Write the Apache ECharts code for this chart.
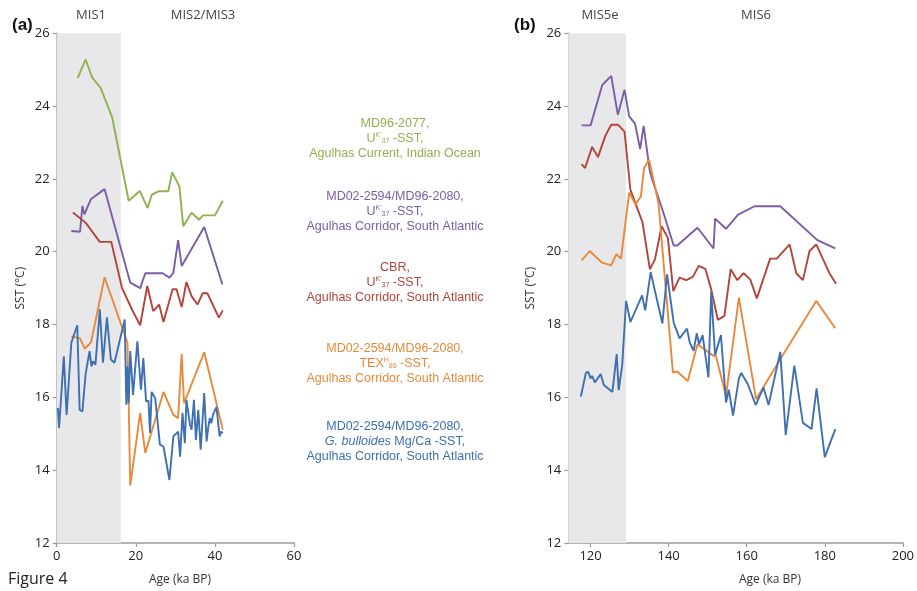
<!DOCTYPE html>
<html>
<head>
<meta charset="utf-8">
<script src="https://cdn.jsdelivr.net/npm/echarts@6/dist/echarts.min.js"></script>
<style>
  html, body { margin: 0; padding: 0; background: #fff; }
  #chart { width: 917px; height: 591px; }
</style>
</head>
<body>
<div id="chart"></div>
<script>
// ---- Panel (a): 0-60 ka ----
const aGreenAge = [5.3, 7.3, 9.0, 11.1, 14.0, 18.2, 21.0, 23.0, 24.0, 25.7, 28.2, 29.2, 31.0, 32.0, 34.1, 36.0, 37.0, 40.0, 42.0];
const aGreenSst = [24.77, 25.28, 24.78, 24.5, 23.7, 21.4, 21.67, 21.2, 21.56, 21.66, 21.66, 22.18, 21.8, 20.7, 21.07, 20.88, 21.0, 21.0, 21.4];

const aPurpleAge = [3.7, 5.9, 6.5, 7.0, 8.7, 12.1, 18.6, 21.1, 22.4, 26.8, 28.5, 29.5, 30.7, 31.6, 37.3, 41.9];
const aPurpleSst = [20.57, 20.55, 21.26, 21.03, 21.45, 21.72, 19.15, 19.0, 19.41, 19.41, 19.29, 19.42, 20.32, 19.61, 20.68, 19.1];

const aRedAge = [4.1, 7.3, 10.9, 13.8, 16.5, 19.0, 21.1, 22.9, 24.4, 25.9, 27.0, 29.3, 30.3, 31.6, 32.8, 34.1, 35.6, 36.9, 38.1, 41.0, 42.0];
const aRedSst = [21.08, 20.8, 20.27, 20.27, 19.01, 18.42, 17.98, 19.06, 18.37, 18.55, 18.07, 18.97, 18.97, 18.48, 19.17, 18.78, 18.55, 18.86, 18.86, 18.19, 18.39];

const aOrangeAge = [3.7, 5.9, 7.1, 8.7, 12.1, 17.9, 18.6, 21.1, 22.4, 27.0, 29.5, 30.7, 31.6, 32.2, 37.3, 42.0];
const aOrangeSst = [17.68, 17.62, 17.33, 17.52, 19.3, 17.5, 13.58, 15.57, 14.47, 16.15, 15.52, 15.43, 17.19, 15.84, 17.24, 15.11];

const aBlueAge = [0.3, 0.6, 1.8, 2.5, 3.7, 5.2, 5.8, 6.5, 7.3, 8.3, 8.8, 9.2, 9.8, 10.9, 11.7, 12.7, 13.7, 14.6, 17.2, 17.6, 17.9, 18.2, 18.6, 19.3, 20.4, 21.3, 21.9, 22.6, 23.2, 23.6, 24.0, 24.9, 26.1, 27.0, 28.5, 29.5, 30.7, 31.2, 31.8, 32.4, 32.8, 33.7, 34.1, 34.7, 35.2, 35.8, 36.4, 37.3, 37.9, 38.3, 38.7, 39.1, 39.5, 40.4, 40.8, 41.2, 41.6, 42.0];
const aBlueSst = [15.71, 15.16, 17.13, 15.52, 17.5, 17.98, 15.66, 15.61, 16.63, 17.27, 16.85, 16.99, 16.9, 18.42, 16.95, 18.2, 17.04, 16.95, 18.14, 15.8, 16.85, 15.84, 17.27, 16.07, 17.54, 16.21, 17.08, 15.89, 15.91, 15.02, 16.15, 15.98, 14.7, 14.65, 13.73, 14.93, 15.06, 14.37, 15.57, 14.74, 15.93, 15.25, 15.11, 15.93, 14.83, 15.66, 14.56, 16.12, 14.79, 15.16, 15.43, 15.29, 15.52, 15.73, 15.33, 14.93, 15.06, 15.02];

// ---- Panel (b): 114-200 ka ----
const bPurpleAge = [117.7, 120.0, 123.0, 125.3, 127.0, 128.7, 129.9, 131.4, 132.7, 133.6, 135.2, 135.8, 138.4, 141.3, 142.2, 147.4, 151.5, 151.9, 154.7, 157.8, 162.0, 168.6, 178.1, 182.7];
const bPurpleSst = [23.47, 23.47, 24.58, 24.83, 23.76, 24.45, 23.72, 23.52, 22.82, 23.46, 22.21, 21.98, 21.16, 20.17, 20.17, 20.66, 20.09, 20.91, 20.63, 21.02, 21.25, 21.25, 20.32, 20.09];

const bRedAge = [117.7, 118.6, 120.4, 121.9, 123.8, 125.3, 127.0, 128.7, 130.2, 131.6, 133.3, 135.2, 136.5, 138.2, 139.8, 141.2, 142.8, 144.5, 146.2, 147.7, 149.4, 150.9, 152.6, 154.3, 155.9, 157.6, 159.2, 160.9, 162.6, 166.0, 167.7, 171.0, 172.7, 174.4, 176.1, 177.8, 181.2, 182.9];
const bRedSst = [22.41, 22.3, 22.88, 22.6, 23.19, 23.49, 23.49, 23.3, 21.71, 21.3, 20.81, 19.52, 19.79, 20.7, 20.38, 18.92, 19.29, 19.22, 19.31, 19.61, 19.53, 18.97, 18.13, 18.24, 19.52, 19.22, 19.41, 19.24, 18.72, 19.81, 19.81, 20.2, 19.41, 19.22, 20.02, 20.2, 19.41, 19.12];

const bOrangeAge = [117.7, 119.8, 122.9, 125.3, 126.6, 127.8, 129.9, 131.5, 132.9, 133.7, 135.0, 137.4, 141.1, 142.2, 144.9, 147.4, 151.5, 152.1, 154.7, 158.0, 162.4, 168.6, 177.8, 182.7];
const bOrangeSst = [19.76, 20.02, 19.7, 19.63, 19.93, 19.81, 21.63, 21.3, 21.52, 22.3, 22.53, 21.34, 16.68, 16.71, 16.45, 17.46, 17.14, 17.14, 16.04, 18.74, 15.95, 17.05, 18.65, 17.9];

const bBlueAge = [117.5, 118.8, 119.4, 120.0, 120.4, 121.1, 122.6, 123.4, 125.6, 126.7, 127.2, 128.1, 129.1, 130.2, 133.2, 134.0, 135.4, 138.4, 139.6, 141.3, 142.8, 144.7, 145.4, 146.4, 147.2, 147.8, 148.7, 150.2, 150.9, 151.9, 153.4, 154.7, 155.4, 156.5, 158.0, 158.6, 160.3, 162.3, 164.3, 165.6, 168.6, 170.0, 172.2, 174.4, 176.6, 177.9, 180.0, 182.7];
const bBlueSst = [16.02, 16.67, 16.7, 16.52, 16.59, 16.41, 16.64, 16.34, 16.15, 17.19, 16.2, 16.87, 18.65, 18.07, 18.8, 18.39, 19.44, 18.03, 19.38, 18.05, 17.62, 17.89, 17.51, 17.28, 17.76, 17.46, 17.71, 16.55, 18.9, 17.16, 17.71, 15.86, 16.21, 15.5, 16.52, 16.67, 16.36, 15.79, 16.27, 15.79, 17.25, 14.97, 16.87, 15.3, 15.13, 16.25, 14.36, 15.13];

// Axis ticks and climate-stage bands
const yTicks = [12, 14, 16, 18, 20, 22, 24, 26];
const aXTicks = [0, 20, 40, 60];
const bXTicks = [120, 140, 160, 180, 200];
const aBand = [0, 16.2];      // MIS1
const bBand = [114.3, 129.1]; // MIS5e

const COLORS = {
  green: '#8db24e',
  purple: '#7a5da6',
  red: '#b4443b',
  orange: '#e8893a',
  blue: '#3e6fb0'
};

function pairs(ages, vals) {
  return ages.map((a, i) => [a, vals[i]]);
}

function lineSeries(name, color, idx, ages, vals, band) {
  const s = {
    name: name,
    type: 'line',
    xAxisIndex: idx,
    yAxisIndex: idx,
    data: pairs(ages, vals),
    showSymbol: false,
    symbol: 'none',
    lineStyle: { color: color, width: 1.9 },
    itemStyle: { color: color },
    animation: false,
    z: 3
  };
  if (band) {
    s.markArea = {
      silent: true,
      itemStyle: { color: '#e8e8eb' },
      data: [[{ xAxis: band[0], yAxis: 12 }, { xAxis: band[1], yAxis: 26 }]]
    };
  }
  return s;
}

const axisFont = 'Open Sans, Noto Sans, sans-serif';

function xAxisCfg(idx, min, max, ticks) {
  return {
    type: 'value',
    gridIndex: idx,
    min: min,
    max: max,
    splitLine: { show: false },
    axisLine: { show: true, lineStyle: { color: '#9a9a9a', width: 1.5 } },
    axisTick: { show: true, length: 4, customValues: ticks, lineStyle: { color: '#9a9a9a', width: 1.2 } },
    axisLabel: { customValues: ticks, color: '#222', fontSize: 13, fontFamily: axisFont, margin: 7 }
  };
}

function yAxisCfg(idx, gap) {
  return {
    type: 'value',
    gridIndex: idx,
    min: yTicks[0],
    max: yTicks[yTicks.length - 1],
    interval: 2,
    name: 'SST (°C)',
    nameLocation: 'middle',
    nameGap: gap,
    nameRotate: 90,
    nameTextStyle: { color: '#333', fontSize: 12, fontFamily: axisFont },
    splitLine: { show: false },
    axisLine: { show: true, lineStyle: { color: '#9a9a9a', width: 1.5 } },
    axisTick: { show: true, length: 4, lineStyle: { color: '#9a9a9a', width: 1.2 } },
    axisLabel: { color: '#222', fontSize: 13, fontFamily: axisFont, margin: 7 }
  };
}

// Captions between the two panels, one block per record
const sup = { fontSize: 7, verticalAlign: 'top', lineHeight: 10 };
const sub = { fontSize: 7, verticalAlign: 'bottom', lineHeight: 10 };
function captionRich(color) {
  return {
    sup: Object.assign({ fill: color }, sup),
    sub: Object.assign({ fill: color }, sub),
    it: { fill: color, fontStyle: 'italic', fontSize: 12.5, fontFamily: 'Liberation Sans, Arial, sans-serif' }
  };
}
function caption(lines, color, y) {
  return lines.map((t, i) => ({
    type: 'text',
    x: 395,
    top: y + i * 15 - 7,
    style: {
      text: t,
      fill: color,
      font: '12.5px "Liberation Sans", Arial, sans-serif',
      textAlign: 'center',
      rich: captionRich(color)
    }
  }));
}

const captions = []
  .concat(caption(['MD96-2077,', 'U{sup|K\'}{sub|37} -SST,', 'Agulhas Current, Indian Ocean'], COLORS.green, 124))
  .concat(caption(['MD02-2594/MD96-2080,', 'U{sup|K\'}{sub|37} -SST,', 'Agulhas Corridor, South Atlantic'], COLORS.purple, 197))
  .concat(caption(['CBR,', 'U{sup|K\'}{sub|37} -SST,', 'Agulhas Corridor, South Atlantic'], COLORS.red, 268))
  .concat(caption(['MD02-2594/MD96-2080,', 'TEX{sup|H}{sub|86} -SST,', 'Agulhas Corridor, South Atlantic'], COLORS.orange, 349))
  .concat(caption(['MD02-2594/MD96-2080,', '{it|G. bulloides} Mg/Ca -SST,', 'Agulhas Corridor, South Atlantic'], COLORS.blue, 427));

const headerFont = '13px "Open Sans", "Noto Sans", sans-serif';
const graphics = [
  { type: 'text', x: 12, y: 17, style: { text: '(a)', font: 'bold 17px "Liberation Sans", Arial, sans-serif', fill: '#111' } },
  { type: 'text', x: 514, y: 17, style: { text: '(b)', font: 'bold 17px "Liberation Sans", Arial, sans-serif', fill: '#111' } },
  { type: 'text', x: 91, y: 9, style: { text: 'MIS1', font: headerFont, fill: '#444', textAlign: 'center' } },
  { type: 'text', x: 203, y: 9, style: { text: 'MIS2/MIS3', font: headerFont, fill: '#444', textAlign: 'center' } },
  { type: 'text', x: 600, y: 9, style: { text: 'MIS5e', font: headerFont, fill: '#444', textAlign: 'center' } },
  { type: 'text', x: 756, y: 9, style: { text: 'MIS6', font: headerFont, fill: '#444', textAlign: 'center' } },
  { type: 'text', x: 180, y: 574, style: { text: 'Age (ka BP)', font: '12px "Open Sans", "Noto Sans", sans-serif', fill: '#333', textAlign: 'center' } },
  { type: 'text', x: 770, y: 574, style: { text: 'Age (ka BP)', font: '12px "Open Sans", "Noto Sans", sans-serif', fill: '#333', textAlign: 'center' } },
  { type: 'text', x: 8, y: 571, style: { text: 'Figure 4', font: '16px "Open Sans", "Noto Sans", sans-serif', fill: '#222' } }
].concat(captions);

const chart = echarts.init(document.getElementById('chart'), null, { renderer: 'canvas' });
chart.setOption({
  backgroundColor: '#ffffff',
  animation: false,
  grid: [
    { left: 56.7, top: 33.3, width: 237.3, height: 509.7 },
    { left: 568.3, top: 33.3, width: 338.4, height: 509.7 }
  ],
  xAxis: [
    xAxisCfg(0, 0, 60, aXTicks),
    xAxisCfg(1, 114.3, 200, bXTicks)
  ],
  yAxis: [
    yAxisCfg(0, 30),
    yAxisCfg(1, 32)
  ],
  series: [
    lineSeries('MD96-2077 UK37', COLORS.green, 0, aGreenAge, aGreenSst, aBand),
    lineSeries('MD02-2594/MD96-2080 UK37', COLORS.purple, 0, aPurpleAge, aPurpleSst),
    lineSeries('CBR UK37', COLORS.red, 0, aRedAge, aRedSst),
    lineSeries('MD02-2594/MD96-2080 TEX86', COLORS.orange, 0, aOrangeAge, aOrangeSst),
    lineSeries('MD02-2594/MD96-2080 Mg/Ca', COLORS.blue, 0, aBlueAge, aBlueSst),
    lineSeries('MD02-2594/MD96-2080 UK37 (b)', COLORS.purple, 1, bPurpleAge, bPurpleSst, bBand),
    lineSeries('CBR UK37 (b)', COLORS.red, 1, bRedAge, bRedSst),
    lineSeries('MD02-2594/MD96-2080 TEX86 (b)', COLORS.orange, 1, bOrangeAge, bOrangeSst),
    lineSeries('MD02-2594/MD96-2080 Mg/Ca (b)', COLORS.blue, 1, bBlueAge, bBlueSst)
  ],
  graphic: graphics
});
</script>
</body>
</html>
